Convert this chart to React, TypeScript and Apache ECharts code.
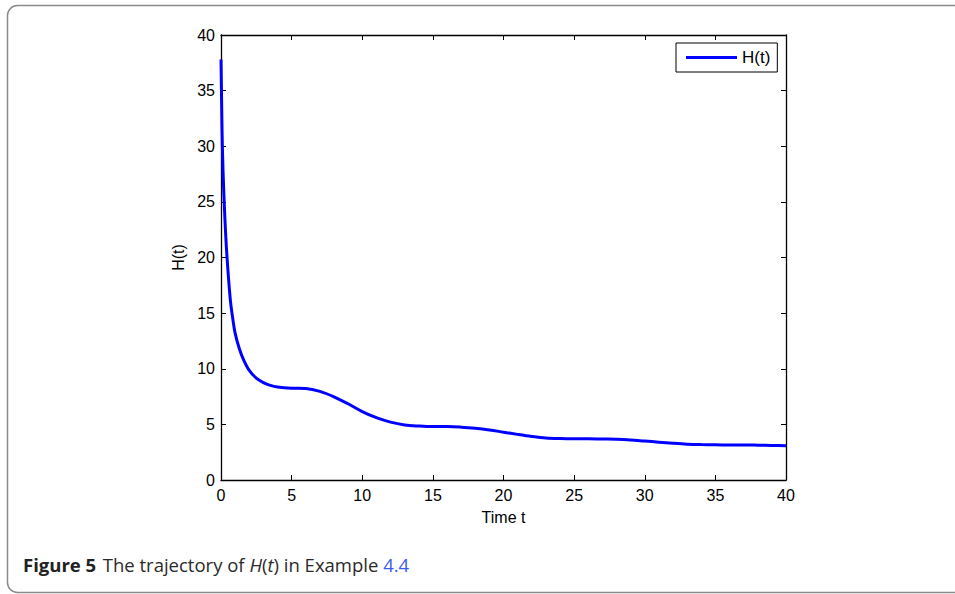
import React, { useEffect, useRef } from "react";
import * as echarts from "echarts";

const timeValues: number[] = [0, 0.05, 0.1, 0.2, 0.35, 0.5, 0.66, 0.8, 1.0, 1.3, 1.6, 2.0, 2.5, 3, 3.5, 4, 5, 6, 7, 8, 9, 10, 11, 12, 13, 14, 15, 16, 17, 18, 19, 20, 21, 22, 23, 24, 25, 26, 27, 28, 29, 30, 31, 32, 33, 34, 35, 36, 37, 38, 39, 40];
const hValues: number[] = [37.8, 33.5, 29.8, 25.8, 21.6, 18.7, 16.2, 14.8, 13.2, 11.8, 10.8, 9.85, 9.15, 8.75, 8.5, 8.36, 8.25, 8.22, 7.97, 7.48, 6.85, 6.15, 5.6, 5.2, 4.95, 4.85, 4.8, 4.8, 4.75, 4.65, 4.5, 4.3, 4.1, 3.92, 3.78, 3.72, 3.7, 3.7, 3.68, 3.66, 3.6, 3.5, 3.4, 3.3, 3.22, 3.18, 3.16, 3.15, 3.15, 3.13, 3.1, 3.08];

const seriesName = "H(t)";
const xAxisTitle = "Time t";
const yAxisTitle = "H(t)";

export default function App() {
  const ref = useRef<HTMLDivElement>(null);
  useEffect(() => {
    if (!ref.current) return;
    const chart = echarts.init(ref.current, null, { renderer: "svg" });
    const data = timeValues.map((t, i) => [t, hValues[i]]);
    const axisFont = { fontFamily: "Liberation Sans, Arial, sans-serif", fontSize: 16, color: "#000" };
    const axisLine = { show: true, onZero: false, lineStyle: { color: "#000", width: 1.3 } };
    const axisTick = { show: true, inside: true, length: 5, lineStyle: { color: "#000", width: 1 } };
    chart.setOption({
      animation: false,
      backgroundColor: "#fff",
      grid: { left: 221, top: 35, right: 169, bottom: 114 },
      legend: {
        show: true,
        left: 676,
        top: 43,
        padding: [6, 7, 6, 10],
        icon: "rect",
        itemWidth: 51,
        itemHeight: 3,
        itemGap: 6,
        borderColor: "#000",
        borderWidth: 1,
        borderRadius: 0,
        backgroundColor: "#fff",
        textStyle: { ...axisFont, fontSize: 17, padding: [0, 0, 0, 0] },
        data: [seriesName],
      },
      xAxis: [
        {
          type: "value",
          min: 0,
          max: 40,
          interval: 5,
          position: "bottom",
          name: xAxisTitle,
          nameLocation: "middle",
          nameGap: 29,
          nameTextStyle: axisFont,
          axisLine,
          axisTick,
          axisLabel: { ...axisFont, margin: 7 },
          splitLine: { show: false },
        },
        {
          type: "value",
          min: 0,
          max: 40,
          interval: 5,
          position: "top",
          axisLine,
          axisTick,
          axisLabel: { show: false },
          splitLine: { show: false },
        },
      ],
      yAxis: [
        {
          type: "value",
          min: 0,
          max: 40,
          interval: 5,
          position: "left",
          name: yAxisTitle,
          nameLocation: "middle",
          nameGap: 33,
          nameTextStyle: axisFont,
          axisLine,
          axisTick,
          axisLabel: { ...axisFont, margin: 6 },
          splitLine: { show: false },
        },
        {
          type: "value",
          min: 0,
          max: 40,
          interval: 5,
          position: "right",
          axisLine,
          axisTick,
          axisLabel: { show: false },
          splitLine: { show: false },
        },
      ],
      series: [
        {
          name: seriesName,
          type: "line",
          data,
          xAxisIndex: 0,
          yAxisIndex: 0,
          symbol: "none",
          showSymbol: false,
          smooth: 0.35,
          lineStyle: { color: "#0000ff", width: 3 },
          itemStyle: { color: "#0000ff" },
        },
      ],
      graphic: [
        {
          type: "rect",
          shape: { x: 7.5, y: 5.5, width: 1000, height: 587, r: 10 },
          style: { fill: "none", stroke: "#8a8a8a", lineWidth: 1.5 },
          silent: true,
        },
        {
          type: "text",
          left: 23,
          top: 555,
          style: {
            text: "{b|Figure 5}  {n|The trajectory of }{i|H}{n|(}{i|t}{n|) in Example }{l|4.4}",
            rich: {
              b: { fontFamily: "Open Sans, sans-serif", fontSize: 18.5, fontWeight: "bold", fill: "#222" },
              n: { fontFamily: "Open Sans, sans-serif", fontSize: 18.5, fill: "#2a2a2a" },
              i: { fontFamily: "Open Sans, sans-serif", fontSize: 18.5, fontStyle: "italic", fill: "#2a2a2a" },
              l: { fontFamily: "Open Sans, sans-serif", fontSize: 18.5, fill: "#3b5ce8" },
            },
          },
        },
      ],
    });
    return () => chart.dispose();
  }, []);
  return <div ref={ref} style={{ position: "fixed", left: 0, top: 0, width: 955, height: 594 }} />;
}
